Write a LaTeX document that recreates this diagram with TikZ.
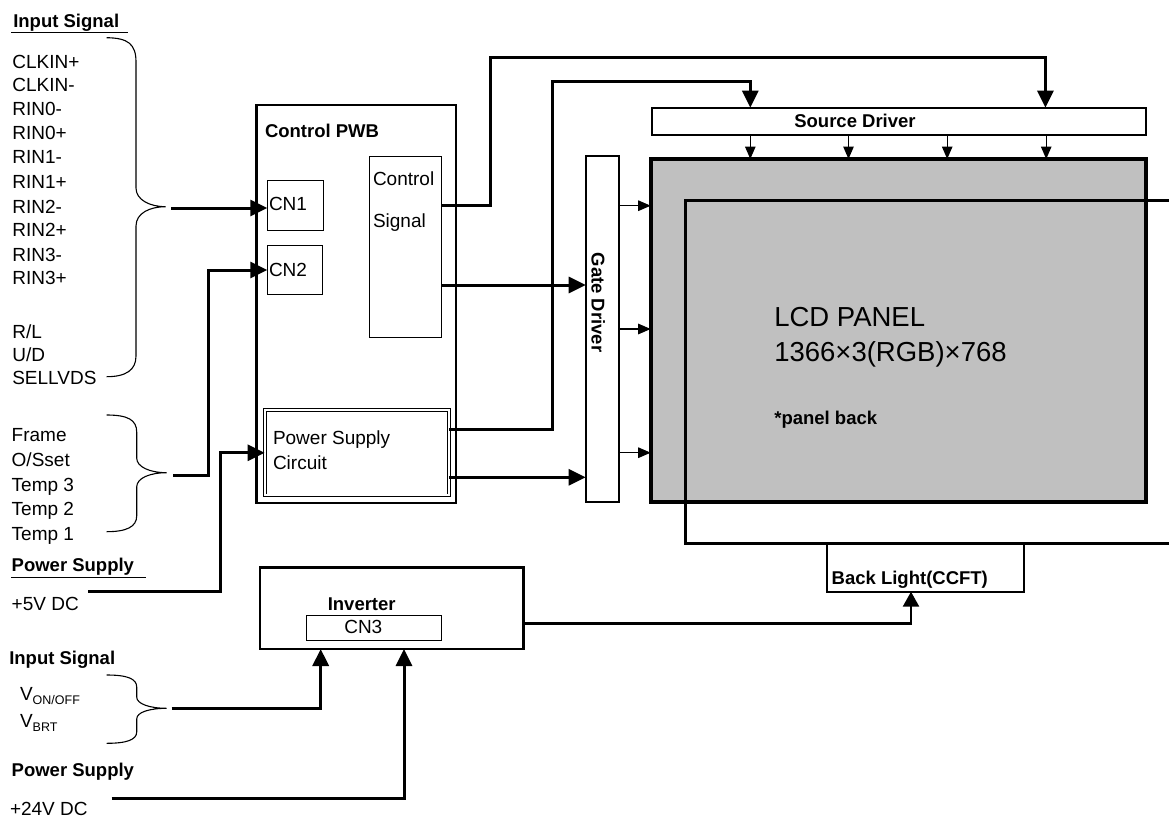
\documentclass[tikz,border=0pt]{standalone}
\usepackage{fontspec}
\setmainfont{Liberation Sans}
\usetikzlibrary{arrows.meta}
\definecolor{panelgray}{RGB}{192,192,192}
\begin{document}
\begin{tikzpicture}[x=1pt,y=-1pt,
  box/.style={draw, inner sep=0pt, outer sep=0pt, anchor=north west},
  lbl/.style={inner sep=0pt, outer sep=0pt, anchor=west, text height=13.6pt, text depth=0pt, font=\fontsize{19}{23}\selectfont},
  blbl/.style={lbl, text height=13.3pt, font=\fontsize{18.5}{22}\selectfont\bfseries},
  biglbl/.style={inner sep=0pt, outer sep=0pt, anchor=west, text height=19.7pt, text depth=0pt, font=\fontsize{27.5}{31}\selectfont},
  wire/.style={line width=3pt},
  big/.style={-{Triangle[length=17pt,width=16pt]}},
  small/.style={-{Triangle[length=12.5pt,width=10.5pt]}},
  mid/.style={-{Triangle[length=15pt,width=16pt]}},
  thinw/.style={line width=1.2pt},
  brace/.style={line width=1.1pt},
  uline/.style={line width=1.5pt}
]
\useasboundingbox (0,0) rectangle (1169,819);

% ---------- boxes ----------
\node[box, line width=2.5pt, minimum width=199.3pt, minimum height=398pt] (pwb) at (256.7,105) {};
\node[box, line width=1pt, minimum width=72.7pt, minimum height=180.3pt] (ctrl) at (369,156.7) {};
\node[box, line width=1pt, minimum width=56pt, minimum height=49.3pt] (cn1) at (267.3,180.7) {};
\node[box, line width=1pt, minimum width=55.4pt, minimum height=49.4pt] (cn2) at (267.3,245.3) {};
\node[box, line width=0.9pt, double, double distance=2pt, minimum width=184.2pt, minimum height=85.2pt] (psc) at (264.6,410.2) {};
\node[box, line width=2pt, minimum width=33.3pt, minimum height=345.7pt] (gate) at (585.7,156) {};
\node[box, line width=2pt, minimum width=494.4pt, minimum height=27.3pt] (src) at (652,107.7) {};
\node[box, line width=3.8pt, fill=panelgray, minimum width=495.3pt, minimum height=342.7pt] (panel) at (650.7,159) {};
\draw[line width=3pt] (1172,200) -- (685.7,200) -- (685.7,543) -- (1172,543);
\node[box, line width=2pt, minimum width=197.3pt, minimum height=47.4pt] (bl) at (826.7,544.3) {};
\node[box, line width=2.5pt, minimum width=263.3pt, minimum height=81.7pt] (inv) at (260,567.3) {};
\node[box, line width=1pt, minimum width=135.7pt, minimum height=25.7pt] (cn3) at (306,615) {};

% ---------- texts in boxes ----------
\node[blbl] (tpwb) at (265,130.7) {Control PWB};
\node[lbl] (tctrl1) at (373,179) {Control};
\node[lbl] (tctrl2) at (373,220.7) {Signal};
\node[lbl] (tcn1) at (269,203.3) {CN1};
\node[lbl] (tcn2) at (269,270) {CN2};
\node[lbl] (tpsc1) at (273,437.7) {Power Supply};
\node[lbl] (tpsc2) at (273,462.7) {Circuit};
\node[blbl, anchor=center, rotate=-90] (tgate) at (598.3,302.5) {Gate Driver};
\node[blbl, anchor=center] (tsrc) at (855,120.7) {Source Driver};
\node[biglbl] (tlcd1) at (774.3,316.7) {LCD PANEL};
\node[biglbl] (tlcd2) at (774.3,351.7) {1366×3(RGB)×768};
\node[blbl] (tlcd3) at (774.3,418.3) {*panel back};
\node[blbl] (tbl) at (831.7,578.3) {Back Light(CCFT)};
\node[blbl, anchor=center] (tinv) at (361.7,603.7) {Inverter};
\node[lbl, anchor=center] (tcn3) at (363.3,627) {CN3};

% ---------- left texts ----------
\node[blbl] (tin1) at (13.3,21.3) {Input Signal};
\draw[uline] (11,32.7) -- (128.3,32.7);
\foreach \t/\yy in {{CLKIN+}/61.7, {CLKIN-}/85, {RIN0-}/108.3, {RIN0+}/133, {RIN1-}/157, {RIN1+}/182, {RIN2-}/207, {RIN2+}/230, {RIN3-}/255, {RIN3+}/278, {R/L}/332, {U/D}/355, {SELLVDS}/378}
  \node[lbl] at (12.3,\yy) {\t};
\foreach \t/\yy in {{Frame}/435, {O/Sset}/460, {Temp 3}/485, {Temp 2}/508.3, {Temp 1}/533.3}
  \node[lbl] at (11.7,\yy) {\t};
\node[blbl] (tps1) at (11.7,565) {Power Supply};
\draw[uline] (11,577.3) -- (145.7,577.3);
\node[lbl] (t5v) at (11.7,603.3) {+5V DC};
\node[blbl] (tin2) at (9.3,658.3) {Input Signal};
\node[lbl] (tvon) at (20,694) {V\raisebox{-4pt}{\fontsize{12.5}{13}\selectfont ON/OFF}};
\node[lbl] (tvbrt) at (20,720.8) {V\raisebox{-4pt}{\fontsize{12.5}{13}\selectfont BRT}};
\node[blbl] (tps2) at (11.7,770) {Power Supply};
\node[lbl] (t24v) at (10,808.3) {+24V DC};

% ---------- braces ----------
\draw[brace] (106.7,37.7) .. controls (128,38) and (136,44) .. (136,62) -- (136,188)
  .. controls (136,200) and (150,206.7) .. (165.7,206.7)
  .. controls (150,206.7) and (136,213) .. (136,226) -- (136,356)
  .. controls (136,370) and (126,376.7) .. (106.7,376.7);
\draw[brace] (106.7,415) .. controls (128,415) and (136.7,420) .. (136.7,432) -- (136.7,458)
  .. controls (136.7,467) and (150,472.7) .. (166.7,472.7)
  .. controls (150,472.7) and (136.7,478) .. (136.7,487) -- (136.7,516)
  .. controls (136.7,527) and (126,531.7) .. (106.7,531.7);
\draw[brace] (106.7,675) .. controls (128,675) and (136.7,679) .. (136.7,687) -- (136.7,697)
  .. controls (136.7,704) and (150,708.3) .. (166.7,708.3)
  .. controls (150,708.3) and (136.7,712) .. (136.7,719) -- (136.7,732)
  .. controls (136.7,740) and (126,743.3) .. (106.7,743.3);

% ---------- connectors ----------
\coordinate (b1) at (171,208);
\draw[wire,big] (b1) -- (b1 -| cn1.west);

\coordinate (b2) at (173.3,475);
\coordinate (j2) at (208.3,475);
\draw[wire,big] (b2) -- (j2) |- (cn2.west);

\coordinate (p5) at (88.3,591);
\coordinate (j5) at (220,591);
\draw[wire,big] (p5) -- (j5) |- (psc.west);

\coordinate (y1) at (0,205.3);
\coordinate (t1) at (490.7,57.3);
\coordinate (t2) at (1045.4,57.3);
\draw[wire,big] (ctrl.east |- y1) -| (t1) -- (t2) -- (t2 |- src.north);

\coordinate (y2) at (0,285);
\draw[wire,big] (ctrl.east |- y2) -- (gate.west |- y2);

\coordinate (y3) at (0,429.3);
\coordinate (t3) at (552.3,81.7);
\coordinate (t4) at (750.3,81.7);
\draw[wire,big] (psc.east |- y3) -| (t3) -- (t4) -- (t4 |- src.north);

\coordinate (y4) at (0,477.3);
\draw[wire,big] (psc.east |- y4) -- (gate.west |- y4);

\foreach \i/\yy in {1/205.7, 2/329, 3/452.7} {
  \coordinate (g\i) at (0,\yy);
  \draw[thinw,small] (gate.east |- g\i) -- (panel.west |- g\i);
}
\foreach \i/\xx in {1/750.3, 2/848.5, 3/947.2, 4/1046.2} {
  \coordinate (s\i) at (\xx,0);
  \draw[thinw,small] (s\i |- src.south) -- (s\i |- panel.north);
}

\coordinate (b3) at (171.7,708.3);
\coordinate (j3) at (320.7,708.3);
\draw[line width=3.5pt,big] (b3) -- (j3) -- (j3 |- inv.south);

\coordinate (p24) at (111.7,798.3);
\coordinate (j24) at (404,798.3);
\draw[wire,big] (p24) -- (j24) -- (j24 |- inv.south);

\coordinate (y5) at (0,623.3);
\coordinate (j6) at (911,623.3);
\draw[line width=2.5pt,mid] (inv.east |- y5) -- (j6) -- (j6 |- bl.south);
\end{tikzpicture}
\end{document}
